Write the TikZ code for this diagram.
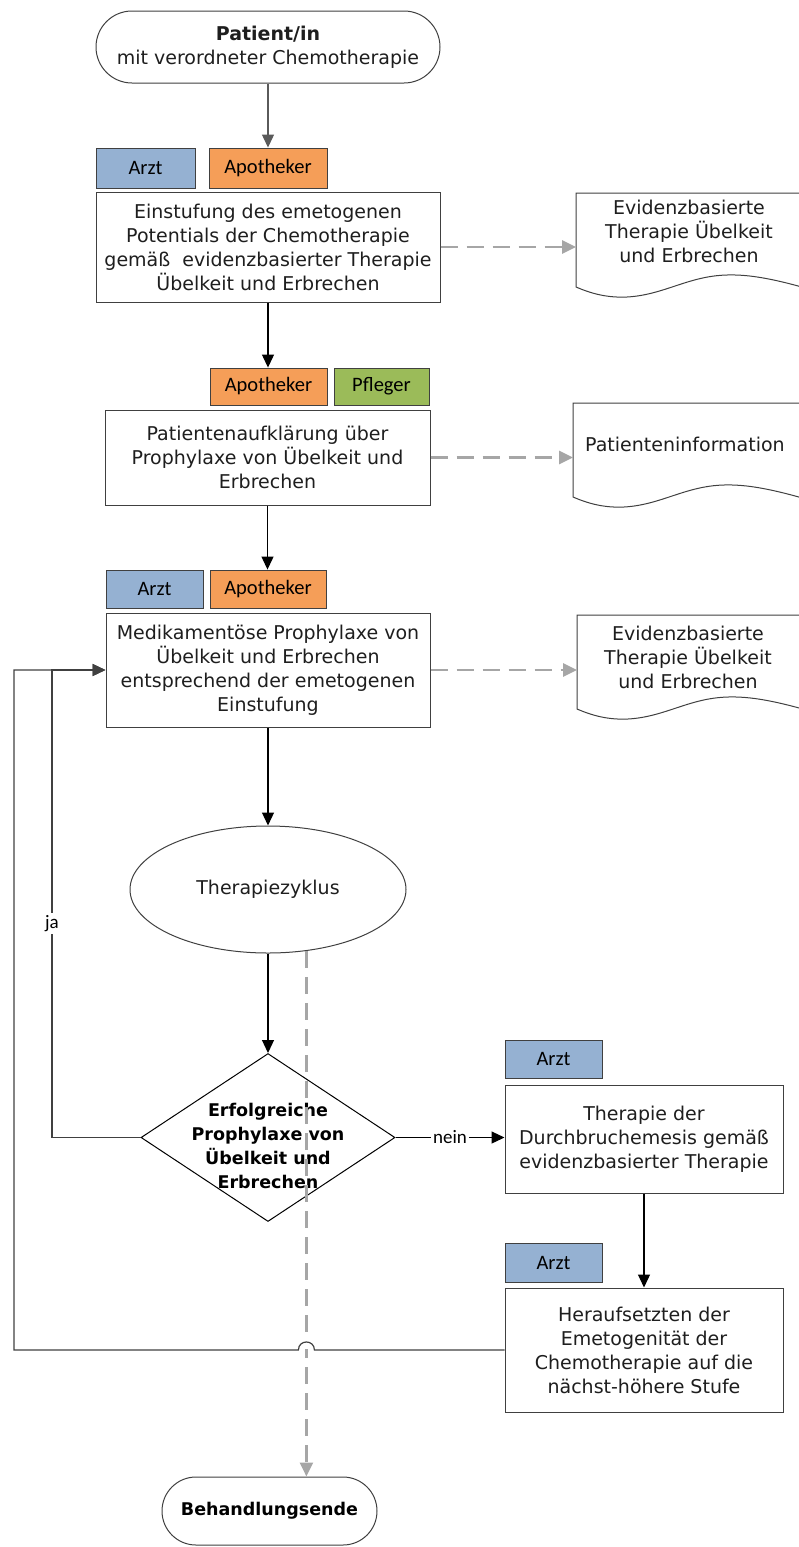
\documentclass[tikz,border=0pt]{standalone}
\usepackage{fontspec}
\setmainfont{DejaVu Sans}
\newfontfamily\tagfont{Carlito}
\usetikzlibrary{arrows.meta,shapes.geometric,shapes.misc,calc}

\definecolor{arztblue}{HTML}{95B1D2}
\definecolor{apoorange}{HTML}{F59E58}
\definecolor{pflgreen}{HTML}{9BBB59}
\definecolor{refgray}{HTML}{A6A6A6}
\definecolor{edgegray}{HTML}{404040}
\definecolor{startgray}{HTML}{5A5A5A}
\definecolor{ink}{HTML}{1E1E1E}

% document symbol: a box whose lower edge is a wave (local origin = top left)
\newcommand\docsymbol[1]{%
  \draw[edgegray, line width=1pt, fill=white]
    (0,0) -- (240,0) -- (240,98)
    .. controls (212,90) and (180,81) .. (151,82)
    .. controls (112,83) and (88,102) .. (51,104)
    .. controls (30,105) and (14,100) .. (0,94) -- cycle;}

\begin{document}
\begin{tikzpicture}[x=1pt,y=-1pt,
  body/.style={font=\fontsize{19}{24}\selectfont, text=ink, align=center},
  boldtext/.style={font=\fontsize{17.5}{24}\selectfont\bfseries, text=black, align=center},
  procbox/.style={draw=edgegray, line width=1pt, fill=white, inner sep=0pt, body},
  terminal/.style={rounded rectangle, draw=edgegray, line width=1pt, fill=white, inner sep=0pt},
  role/.style={draw=edgegray, line width=0.9pt, inner sep=0pt,
    font=\tagfont\fontsize{20.5}{22}\selectfont, text=black},
  flow/.style={line width=1.2pt, draw=black, -{Triangle[length=13pt,width=12pt]}},
  loopline/.style={line width=1.2pt, draw=edgegray, -{Triangle[length=13pt,width=12pt]}},
  ref/.style={draw=refgray, line width=2.6pt, dash pattern=on 17pt off 9pt,
    -{Triangle[length=14pt,width=13pt,fill=refgray]}},
  lbl/.style={fill=white, inner sep=2pt, font=\tagfont\fontsize{19}{20}\selectfont, text=black}
]
\useasboundingbox (0,0) rectangle (799,1547);

% ---- start ----
\node[terminal, minimum width=344pt, minimum height=72pt, body] (start) at (268,47)
  {\textbf{Patient/in}\\mit verordneter Chemotherapie};

% ---- step 1 ----
\node[role, fill=arztblue, minimum width=99pt, minimum height=40pt] (r1a) at (145.5,168) {Arzt};
\node[role, fill=apoorange, minimum width=118pt, minimum height=40pt] (r1b) at (268,168) {Apotheker};
\node[procbox, minimum width=344pt, minimum height=110pt] (box1) at (268,247)
  {Einstufung des emetogenen\\Potentials der Chemotherapie\\gemäß~ evidenzbasierter Therapie\\Übelkeit und Erbrechen};

\begin{scope}[shift={(576,193)}]
  \docsymbol{}
  \node[body] (doc1) at (113,38) {Evidenzbasierte\\Therapie Übelkeit\\und Erbrechen};
  \coordinate (doc1in) at (0,54);
\end{scope}

% ---- step 2 ----
\node[role, fill=apoorange, minimum width=117pt, minimum height=37pt] (r2a) at (268.5,386.5) {Apotheker};
\node[role, fill=pflgreen, minimum width=95pt, minimum height=37pt] (r2b) at (381.5,386.5) {Pfleger};
\node[procbox, minimum width=325pt, minimum height=95pt] (box2) at (267.5,457.5)
  {Patientenaufklärung über\\Prophylaxe von Übelkeit und\\Erbrechen};

\begin{scope}[shift={(573,403)}]
  \docsymbol{}
  \node[body, anchor=west, inner sep=0pt] (doc2) at (12,41) {Patienteninformation};
  \coordinate (doc2in) at (0,54.5);
\end{scope}

% ---- step 3 ----
\node[role, fill=arztblue, minimum width=97pt, minimum height=38pt] (r3a) at (154.5,589) {Arzt};
\node[role, fill=apoorange, minimum width=116pt, minimum height=38pt] (r3b) at (268,589) {Apotheker};
\node[procbox, minimum width=324pt, minimum height=114pt] (box3) at (268,670)
  {Medikamentöse Prophylaxe von\\Übelkeit und Erbrechen\\entsprechend der emetogenen\\Einstufung};

\begin{scope}[shift={(577,615)}]
  \docsymbol{}
  \node[body] (doc3) at (111,42) {Evidenzbasierte\\Therapie Übelkeit\\und Erbrechen};
  \coordinate (doc3in) at (0,55);
\end{scope}

% ---- cycle and decision ----
\node[ellipse, draw=edgegray, line width=1pt, fill=white, minimum width=276pt,
  minimum height=127pt, inner sep=0pt, body] (ell) at (268,889.5) {Therapiezyklus};

\node[diamond, draw=black, line width=1pt, fill=white, minimum width=254pt,
  minimum height=168pt, inner sep=0pt] (dec) at (268,1137.5) {};
\node[boldtext] (dectext) at (268,1146)
  {Erfolgreiche\\Prophylaxe von\\Übelkeit und\\Erbrechen};

% ---- breakthrough branch ----
\node[role, fill=arztblue, minimum width=97pt, minimum height=38pt] (r4) at (553.5,1059) {Arzt};
\node[procbox, minimum width=278pt, minimum height=108pt] (box4) at (644,1139)
  {Therapie der\\Durchbruchemesis gemäß\\evidenzbasierter Therapie};

\node[role, fill=arztblue, minimum width=97pt, minimum height=39pt] (r5) at (553.5,1262.5) {Arzt};
\node[procbox, minimum width=278pt, minimum height=124pt] (box5) at (644,1350)
  {Heraufsetzten der\\Emetogenität der\\Chemotherapie auf die\\nächst-höhere Stufe};

% ---- end ----
\node[terminal, minimum width=215pt, minimum height=68pt, boldtext] (stop) at (269.5,1511)
  {Behandlungsende};

% ---- connectors ----
\draw[flow, draw=startgray] (start.south) -- (start.south |- r1b.north);
\draw[flow] (box1.south) -- (box1.south |- r2a.north);
\draw[flow] (box2.south) -- (box2.south |- r3b.north);
\draw[flow] (box3.south) -- (ell.north);
\draw[flow] (ell.south) -- (dec.north);
\draw[flow] (dec.east) -- node[lbl] {nein} (dec.east -| box4.west);
\draw[flow] (box4.south) -- (box5.north);

\draw[ref] (box1.east) -- (doc1in);
\draw[ref] (box2.east) -- (doc2in);
\draw[ref] (box3.east) -- (doc3in);

% path to the end of treatment
\coordinate (ex) at (ell.-58.8);
\draw[ref] (ex) -- (ex |- stop.north);

% loops back to the prophylaxis step
\coordinate (jax) at (52,0);
\coordinate (upx) at (14,0);
\coordinate (jx) at (ex |- box5.west);
\fill[white] ($(jx)+(-3,-14)$) rectangle ($(jx)+(3,-1)$);
\draw[loopline] (box5.west) -- ($(jx)+(8,0)$)
  .. controls ($(jx)+(8,-10.7)$) and ($(jx)+(-8,-10.7)$) .. ($(jx)+(-8,0)$)
  -- (box5.west -| upx) -- (box3.west -| upx) -- (box3.west);
\draw[loopline] (dec.west) -- (dec.west -| jax)
  -- node[lbl, pos=0.458] {ja} (box3.west -| jax) -- (box3.west);
\end{tikzpicture}
\end{document}
